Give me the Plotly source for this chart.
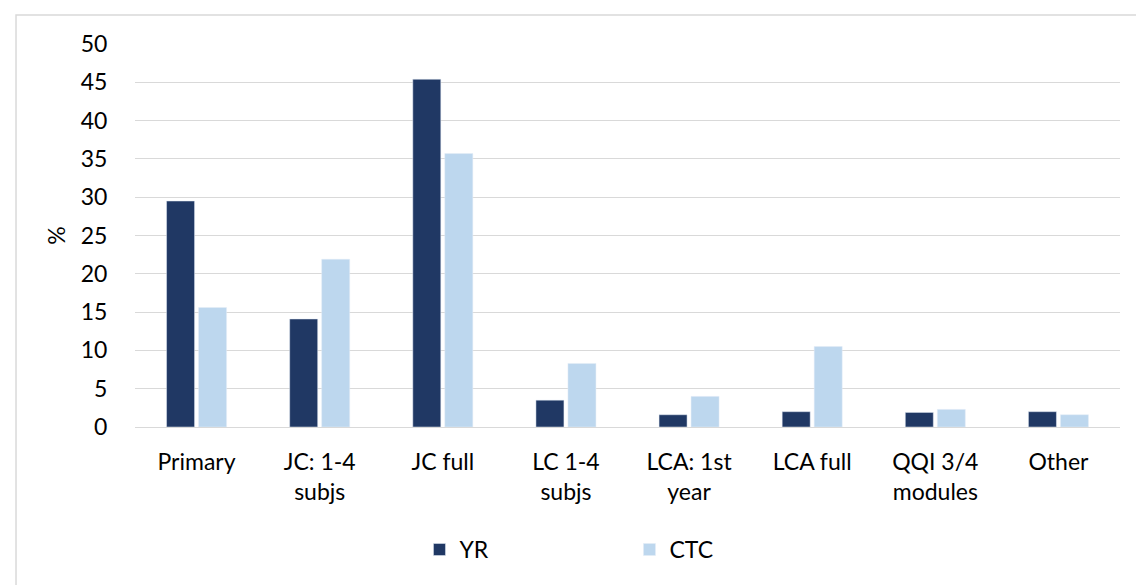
import plotly.graph_objects as go

categories = ["Primary", "JC: 1-4<br>subjs", "JC full", "LC 1-4<br>subjs",
              "LCA: 1st<br>year", "LCA full", "QQI 3/4<br>modules", "Other"]
yr = [29.5, 14.1, 45.4, 3.5, 1.6, 2.0, 1.9, 2.0]
ctc = [15.6, 21.9, 35.7, 8.3, 4.0, 10.5, 2.3, 1.6]
y_ticks = [0, 5, 10, 15, 20, 25, 30, 35, 40, 45, 50]

FONT = "Lato, Carlito, Calibri, sans-serif"

fig = go.Figure()
fig.add_trace(go.Bar(x=categories, y=yr, name="YR", marker_color="#203864"))
fig.add_trace(go.Bar(x=categories, y=ctc, name="CTC", marker_color="#BDD7EE"))

fig.update_layout(
    width=1136, height=577,
    margin=dict(l=127, r=24, t=36, b=158),
    paper_bgcolor="white", plot_bgcolor="white",
    font=dict(family=FONT, size=23, color="#000000"),
    barmode="group", bargap=0.48, bargroupgap=0.125,
    showlegend=True,
    legend=dict(orientation="h", x=0.502, xanchor="center", y=-0.32, yanchor="middle",
                entrywidth=165, font=dict(size=23)),
    shapes=[dict(type="rect", xref="paper", yref="paper",
                 x0=-0.1208, x1=1.05, y0=-0.5, y1=1.0757,
                 line=dict(color="#D9D9D9", width=1.5), fillcolor="rgba(0,0,0,0)", layer="below")],
)
fig.update_yaxes(range=[0, 50], tickvals=y_ticks, showgrid=True, gridcolor="#D9D9D9", gridwidth=1.3,
                 zeroline=False, showline=False, ticks="outside", ticklen=22, tickcolor="rgba(0,0,0,0)",
                 title=dict(text="%", standoff=8, font=dict(size=23)), fixedrange=True)
fig.update_xaxes(showline=True, linecolor="#D9D9D9", linewidth=1.3, ticks="outside", ticklen=14,
                 tickcolor="rgba(0,0,0,0)", tickangle=0, fixedrange=True)

fig.write_html("out.html")
